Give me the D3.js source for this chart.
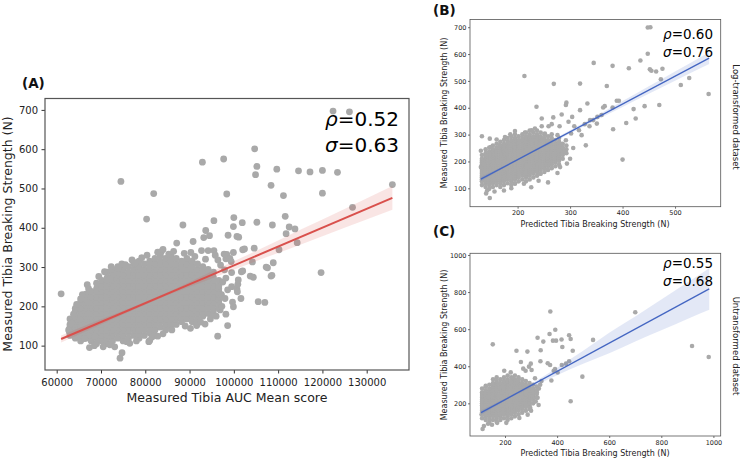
<!DOCTYPE html>
<html><head><meta charset="utf-8">
<script src="https://cdn.jsdelivr.net/npm/d3@7"></script>
<style>body{margin:0;background:#fff}svg{display:block}text{font-family:"DejaVu Sans",sans-serif}</style>
</head><body><svg id="c" width="740" height="461"></svg>
<script>
// ---------------- Panel A data ----------------
const ticksAx = [60000,70000,80000,90000,100000,110000,120000,130000];
const ticksAy = [100,200,300,400,500,600,700];
const outA = [[61000,232],[62700,140],[62900,134],[63400,157],[63800,180],[64200,195],[64500,205],[65400,219],[65400,134],[65800,230],[66300,118],[66900,255],[67200,245],[67400,95],[68500,100],[68650,123],[69500,276],[70500,97],[70800,288],[72000,269],[72000,102],[72300,301],[73100,97],[73800,297],[74300,68],[74500,518],[74700,308],[74750,82],[75500,306],[75800,110],[76500,106],[77000,318],[77800,311],[78000,112],[79200,324],[80300,422],[80400,330],[80800,110],[81000,113],[81500,122],[81900,487],[82000,125],[82800,124],[82800,338],[83600,339],[84000,345],[84000,130],[85300,333],[86000,140],[86400,340],[87100,361],[88500,407],[88800,335],[89000,150],[90200,144],[90300,337],[90800,365],[91200,327],[91600,151],[91600,155],[92500,160],[92900,567],[93200,375],[93500,155],[93600,320],[93650,393],[94500,380],[92700,342],[94200,342],[94700,168],[95400,178],[95500,418],[95500,342],[95800,330],[96000,175],[96350,124],[96400,318],[96900,191],[97000,305],[97200,230],[97300,200],[97500,262],[97700,575],[97800,333],[97900,293],[98000,220],[98200,272],[98200,321],[98200,180],[98400,332],[98400,486],[98600,151],[98600,242],[98700,381],[99100,322],[99500,286],[99500,250],[99400,314],[99700,211],[99900,199],[99900,337],[99900,403],[100000,426],[100700,244],[100700,378],[100800,237],[100900,256],[101000,267],[101100,376],[101600,220],[101700,288],[101900,413],[102000,290],[102000,344],[102400,346],[103700,277],[104200,313],[104400,274],[104600,348],[104700,601],[104900,535],[105200,556],[105200,414],[105500,212],[107000,210],[107300,300],[107600,298],[108400,277],[108400,508],[108600,279],[108700,407],[108900,311],[109700,549],[110200,344],[111200,482],[111600,429],[111800,385],[112500,402],[113800,397],[114300,362],[114600,545],[117200,542],[119700,286],[120000,488],[120000,546],[122400,697],[123400,541],[126100,695],[126800,452],[135800,510]];
const cloudA = [
[63000,[126,140,147,154,168]],
[64200,[119,133,140,147,154,161,168,175,189]],
[65400,[112,126,133,140,147,154,161,168,175,182,189,196,210]],
[66600,[119,133,140,147,154,161,168,175,182,189,196,203,210,217,231]],
[67800,[112,126,133,140,147,154,161,168,175,182,189,196,203,210,217,224,238]],
[69000,[105,119,126,133,140,147,154,161,168,175,182,189,196,203,210,217,224,231,238,245,259]],
[70200,[112,126,133,140,147,154,161,168,175,182,189,196,203,210,217,224,231,238,245,252,266]],
[71400,[105,119,126,133,140,147,154,161,168,175,182,189,196,203,210,217,224,231,238,245,252,259,266,273,287]],
[72600,[112,126,133,140,147,154,161,168,175,182,189,196,203,210,217,224,231,238,245,252,259,266,273,280,294]],
[73800,[119,133,140,147,154,161,168,175,182,189,196,203,210,217,224,231,238,245,252,259,266,273,280,287,301]],
[75000,[112,126,133,140,147,154,161,168,175,182,189,196,203,210,217,224,231,238,245,252,259,266,273,280,294]],
[76200,[119,133,140,147,154,161,168,175,182,189,196,203,210,217,224,231,238,245,252,259,266,273,280,287,301]],
[77400,[126,140,147,154,161,168,175,182,189,196,203,210,217,224,231,238,245,252,259,266,273,280,287,294,308]],
[78600,[119,133,140,147,154,161,168,175,182,189,196,203,210,217,224,231,238,245,252,259,266,273,280,287,294,301,315]],
[79800,[126,140,147,154,161,168,175,182,189,196,203,210,217,224,231,238,245,252,259,266,273,280,287,294,308]],
[81000,[133,147,154,161,168,175,182,189,196,203,210,217,224,231,238,245,252,259,266,273,280,287,294,301,315]],
[82200,[140,154,161,168,175,182,189,196,203,210,217,224,231,238,245,252,259,266,273,280,287,294,301,308,322]],
[83400,[147,161,168,175,182,189,196,203,210,217,224,231,238,245,252,259,266,273,280,287,294,301,308,315,329]],
[84600,[140,154,161,168,175,182,189,196,203,210,217,224,231,238,245,252,259,266,273,280,287,294,301,308,322]],
[85800,[147,161,168,175,182,189,196,203,210,217,224,231,238,245,252,259,266,273,280,287,294,301,308,315,329]],
[87000,[154,168,175,182,189,196,203,210,217,224,231,238,245,252,259,266,273,280,287,294,301,308,322]],
[88200,[161,175,182,189,196,203,210,217,224,231,238,245,252,259,266,273,280,287,294,301,315]],
[89400,[168,182,189,196,203,210,217,224,231,238,245,252,259,266,273,280,287,294,301,308,322]],
[90600,[161,175,182,189,196,203,210,217,224,231,238,245,252,259,266,273,280,287,294,301,315]],
[91800,[168,182,189,196,203,210,217,224,231,238,245,252,259,266,273,280,287,294,308]],
[93000,[175,189,196,203,210,217,224,231,238,245,252,259,266,273,280,287,301]],
[94200,[182,196,203,210,217,224,231,238,245,252,259,266,273,280,294]],
[95400,[189,203,210,217,224,231,238,245,252,259,266,273,287]],
[96600,[196,210,217,224,231,238,245,252,266]]
];
const lineA = [[61000,117],[135800,476]];
const bandA = [[61000,108,126],[70000,154,167],[80000,204,212],[85000,228,236],[95000,271,289],[105000,315,341],[115000,357,395],[125000,400,448],[135800,446,506]];

// ---------------- Panel B data ----------------
const ticksBx = [200,300,400,500];
const ticksBy = [100,200,300,400,500,600,700];
const outB = [[132,294],[147,285],[130,240],[130,179],[138,160],[133,142],[140,81],[147,64],[142,92],[156,88],[174,92],[188,100],[195,117],[212,117],[226,104],[240,128],[258,122],[276,157],[236,404],[268,364],[284,375],[293,419],[292,410],[304,366],[319,391],[333,416],[297,348],[308,331],[317,316],[328,339],[337,331],[322,298],[302,304],[330,260],[292,279],[280,331],[259,331],[246,360],[265,339],[252,304],[276,298],[284,264],[278,242],[290,235],[294,192],[281,179],[300,210],[306,250],[257,169],[243,154],[186,301],[195,313],[214,308],[227,316],[233,323],[246,331],[176,291],[166,260],[160,282],[149,254],[363,401],[366,406],[381,401],[389,426],[393,426],[370,481],[319,490],[269,489],[213,518],[345,567],[381,556],[412,547],[434,576],[448,601],[448,699],[453,700],[452,543],[455,538],[464,535],[476,545],[473,506],[511,485],[527,511],[564,451],[421,395],[442,406],[470,410],[425,360],[407,343],[382,320],[400,207],[352,366],[344,354],[351,341],[360,373],[338,354]];
const cloudB = [
[132,[112,126,133,140,147,154,161,168,175,182,189,196,203,210,224]],
[139,[105,119,126,133,140,147,154,161,168,175,182,189,196,203,210,217,224,231,245]],
[146,[98,112,119,126,133,140,147,154,161,168,175,182,189,196,203,210,217,224,231,238,252]],
[153,[105,119,126,133,140,147,154,161,168,175,182,189,196,203,210,217,224,231,238,245,259]],
[160,[112,126,133,140,147,154,161,168,175,182,189,196,203,210,217,224,231,238,245,252,266]],
[167,[105,119,126,133,140,147,154,161,168,175,182,189,196,203,210,217,224,231,238,245,252,259,273]],
[174,[112,126,133,140,147,154,161,168,175,182,189,196,203,210,217,224,231,238,245,252,259,266,280]],
[181,[119,133,140,147,154,161,168,175,182,189,196,203,210,217,224,231,238,245,252,259,266,273,287]],
[188,[112,126,133,140,147,154,161,168,175,182,189,196,203,210,217,224,231,238,245,252,259,266,273,280,294]],
[195,[119,133,140,147,154,161,168,175,182,189,196,203,210,217,224,231,238,245,252,259,266,273,280,287,301]],
[202,[126,140,147,154,161,168,175,182,189,196,203,210,217,224,231,238,245,252,259,266,273,280,294]],
[209,[133,147,154,161,168,175,182,189,196,203,210,217,224,231,238,245,252,259,266,273,280,287,301]],
[216,[126,140,147,154,161,168,175,182,189,196,203,210,217,224,231,238,245,252,259,266,273,280,287,294,308]],
[223,[133,147,154,161,168,175,182,189,196,203,210,217,224,231,238,245,252,259,266,273,280,287,294,301,315]],
[230,[140,154,161,168,175,182,189,196,203,210,217,224,231,238,245,252,259,266,273,280,287,294,308]],
[237,[147,161,168,175,182,189,196,203,210,217,224,231,238,245,252,259,266,273,280,287,294,301,315]],
[244,[154,168,175,182,189,196,203,210,217,224,231,238,245,252,259,266,273,280,287,294,308]],
[251,[161,175,182,189,196,203,210,217,224,231,238,245,252,259,266,273,280,287,301]],
[258,[168,182,189,196,203,210,217,224,231,238,245,252,259,266,273,280,294]],
[265,[175,189,196,203,210,217,224,231,238,245,252,259,266,273,280,287,301]],
[272,[182,196,203,210,217,224,231,238,245,252,259,266,280]],
[279,[189,203,210,217,224,231,238,245,252,259,266,273,287]],
[286,[210,224,231,238,245,252,266]],
[293,[231,245,259]]
];
const lineB = [[130,134],[565,585]];
const bandB = [[130,126,142],[170,172,180],[210,214,220],[250,254,263],[300,304,316],[350,354,370],[400,403,425],[450,452,480],[500,501,535],[565,563,607]];

// ---------------- Panel C data ----------------
const ticksCx = [200,400,600,800,1000];
const ticksCy = [200,400,600,800,1000];
const outC = [[374,695],[700,691],[918,509],[982,450],[153,518],[371,574],[325,554],[393,597],[347,533],[384,538],[396,538],[417,544],[446,567],[452,547],[420,504],[460,484],[538,542],[244,484],[286,479],[337,486],[261,423],[299,414],[336,427],[364,416],[373,407],[392,385],[387,376],[402,366],[418,407],[434,414],[446,427],[497,344],[378,323],[452,211],[329,191],[297,175],[287,139],[255,121],[197,376],[222,367],[270,387],[279,376],[292,398],[302,380],[315,335],[119,78],[114,62],[126,294],[229,337],[135,90],[150,85],[170,95],[205,95],[110,140],[330,280],[335,300],[325,230],[318,210],[300,160],[340,320]];
const cloudC = [
[112,[120,140,150,160,170,180,190,200,210,220,230,240,250,260,280]],
[126,[110,130,140,150,160,170,180,190,200,210,220,230,240,250,260,270,290]],
[140,[100,120,130,140,150,160,170,180,190,200,210,220,230,240,250,260,270,280,300]],
[154,[110,130,140,150,160,170,180,190,200,210,220,230,240,250,260,270,280,290,300,310,330]],
[168,[100,120,130,140,150,160,170,180,190,200,210,220,230,240,250,260,270,280,290,300,310,320,340]],
[182,[110,130,140,150,160,170,180,190,200,210,220,230,240,250,260,270,280,290,300,310,330]],
[196,[120,140,150,160,170,180,190,200,210,220,230,240,250,260,270,280,290,300,310,320,340]],
[210,[110,130,140,150,160,170,180,190,200,210,220,230,240,250,260,270,280,290,300,310,320,330,350]],
[224,[120,140,150,160,170,180,190,200,210,220,230,240,250,260,270,280,290,300,310,320,340]],
[238,[130,150,160,170,180,190,200,210,220,230,240,250,260,270,280,290,300,310,320,330,350]],
[252,[140,160,170,180,190,200,210,220,230,240,250,260,270,280,290,300,310,320,340]],
[266,[150,170,180,190,200,210,220,230,240,250,260,270,280,290,300,310,330]],
[280,[160,180,190,200,210,220,230,240,250,260,270,280,290,300,320]],
[294,[170,190,200,210,220,230,240,250,260,270,280,290,310]],
[308,[200,220,230,240,250,260,270,280,300]],
[322,[230,250,260,270,290]]
];
const lineC = [[108,150],[984,817]];
const bandC = [[108,138,162],[200,214,226],[300,287,305],[400,352,392],[500,413,483],[600,470,580],[700,534,668],[800,594,760],[900,655,851],[984,705,929]];

// ---------------- drawing ----------------
const svg = d3.select("#c");
const flat = (out, cloud) => cloud.flatMap(([x, ys]) => ys.map(y => [x, y])).concat(out);

function drawPanel(p) {
  const x = d3.scaleLinear().domain(p.xDom).range([p.left, p.right]);
  const y = d3.scaleLinear().domain(p.yDom).range([p.bottom, p.top]);
  const g = svg.append("g");
  const styleAxis = sel => {
    sel.select(".domain").remove();
    sel.selectAll(".tick line").attr("stroke", "#333").attr("stroke-width", p.tickW);
    sel.selectAll(".tick text").attr("fill", "#222").style("font-size", p.tickFont + "px").style("font-family", "DejaVu Sans");
  };
  g.append("g").attr("transform", `translate(0,${p.bottom})`)
    .call(d3.axisBottom(x).tickValues(p.xTicks).tickSize(p.tick).tickPadding(p.padX).tickFormat(d3.format("d")))
    .call(styleAxis);
  g.append("g").attr("transform", `translate(${p.left},0)`)
    .call(d3.axisLeft(y).tickValues(p.yTicks).tickSize(p.tick).tickPadding(p.padY).tickFormat(d3.format("d")))
    .call(styleAxis);
  g.append("g").selectAll("circle").data(p.points).join("circle")
    .attr("cx", d => x(d[0])).attr("cy", d => y(d[1])).attr("r", p.r).attr("fill", "#a9a9a9");
  const area = d3.area().x(d => x(d[0])).y0(d => y(d[1])).y1(d => y(d[2])).curve(d3.curveMonotoneX);
  g.append("path").datum(p.band).attr("d", area).attr("fill", p.color).attr("fill-opacity", 0.15);
  g.append("path").datum(p.line).attr("d", d3.line().x(d => x(d[0])).y(d => y(d[1])))
    .attr("stroke", p.color).attr("stroke-width", p.lw).attr("fill", "none");
  g.append("rect").attr("x", p.left).attr("y", p.top).attr("width", p.right - p.left).attr("height", p.bottom - p.top)
    .attr("fill", "none").attr("stroke", "#555").attr("stroke-width", p.frameW);
}

drawPanel({xDom:[57358,139551], yDom:[38,729], left:45, right:409, top:98.5, bottom:370,
  xTicks:ticksAx, yTicks:ticksAy, tick:3.5, padX:5, padY:3.5, tickFont:10, tickW:1,
  points:flat(outA, cloudA), r:3.4, color:"#d9504c", lw:2, band:bandA, line:lineA, frameW:1.2});
drawPanel({xDom:[109.3,587], yDom:[31.5,728.7], left:470, right:720.7, top:19.5, bottom:206.7,
  xTicks:ticksBx, yTicks:ticksBy, tick:2, padX:2, padY:1.5, tickFont:6.5, tickW:0.7,
  points:flat(outB, cloudB), r:2.3, color:"#4466c2", lw:1.3, band:bandB, line:lineB, frameW:0.8});
drawPanel({xDom:[65.6,1028], yDom:[24,1009], left:470, right:720.7, top:253.3, bottom:436,
  xTicks:ticksCx, yTicks:ticksCy, tick:2, padX:2, padY:1.5, tickFont:6.5, tickW:0.7,
  points:flat(outC, cloudC), r:2.3, color:"#4466c2", lw:1.3, band:bandC, line:lineC, frameW:0.8});

// texts
function txt(x, y, s, size, opts = {}) {
  const t = svg.append("text").attr("x", x).attr("y", y).style("font-size", size + "px")
    .attr("fill", opts.fill || "#111").attr("text-anchor", opts.anchor || "start");
  if (opts.bold) t.style("font-weight", "bold");
  if (opts.rot) t.attr("x", 0).attr("y", 0).attr("transform", `translate(${x},${y}) rotate(${opts.rot})`);
  t.text(s);
  return t;
}
function stat(x, y, sym, val, size) {
  const t = svg.append("text").attr("x", x).attr("y", y).attr("text-anchor", "end").style("font-size", size + "px").attr("fill", "#000");
  t.append("tspan").style("font-style", "italic").text(sym);
  t.append("tspan").text("=" + val);
}
txt(22, 87.5, "(A)", 13.5, {bold:true});
txt(227, 402, "Measured Tibia AUC Mean score", 12.5, {anchor:"middle", fill:"#222"});
txt(12, 234, "Measured Tibia Breaking Strength (N)", 12.5, {anchor:"middle", rot:-90, fill:"#222"});
stat(399, 126, "ρ", "0.52", 20);
stat(399, 152, "σ", "0.63", 20);

txt(433, 14.5, "(B)", 13.5, {bold:true});
txt(595, 227, "Predicted Tibia Breaking Strength (N)", 8, {anchor:"middle", fill:"#222"});
txt(447, 113, "Measured Tibia Breaking Strength (N)", 8, {anchor:"middle", rot:-90, fill:"#222"});
stat(713, 39, "ρ", "0.60", 13.5);
stat(713, 57, "σ", "0.76", 13.5);
txt(733, 117, "Log-transformed dataset", 8.5, {anchor:"middle", rot:90, fill:"#222"});

txt(433, 236, "(C)", 13.5, {bold:true});
txt(595, 456, "Predicted Tibia Breaking Strength (N)", 8, {anchor:"middle", fill:"#222"});
txt(447, 345, "Measured Tibia Breaking Strength (N)", 8, {anchor:"middle", rot:-90, fill:"#222"});
stat(713, 268, "ρ", "0.55", 13.5);
stat(713, 286, "σ", "0.68", 13.5);
txt(733, 346, "Untransformed dataset", 8.5, {anchor:"middle", rot:90, fill:"#222"});
</script></body></html>
